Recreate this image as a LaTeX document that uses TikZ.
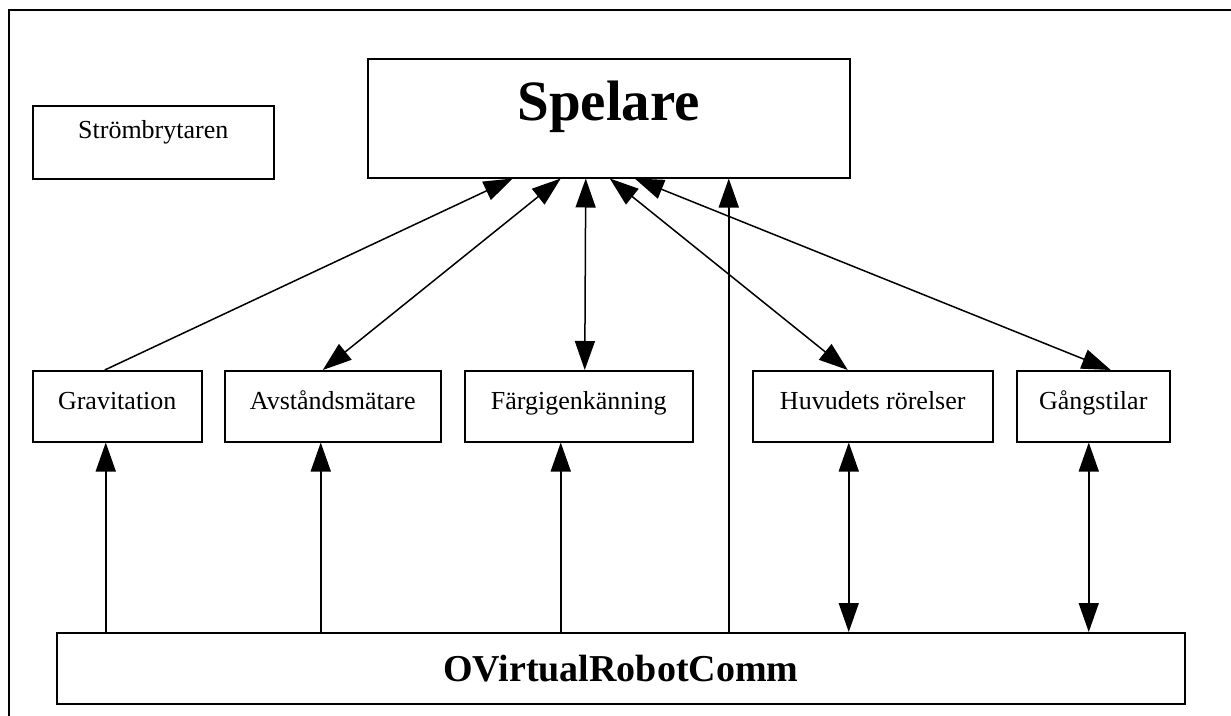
\documentclass[tikz,border=0pt]{standalone}
\usepackage{fontspec}
\setmainfont{Liberation Serif}
\usetikzlibrary{arrows.meta}
\begin{document}
\begin{tikzpicture}[x=1pt,y=-1pt,
  box/.style={draw, line width=1.5pt, rectangle, inner sep=0pt, anchor=north west},
  lbl/.style={font=\fontsize{26}{30}\selectfont, text height=11pt, text depth=5pt},
  uarr/.style={line width=1.5pt, -{Triangle[length=29pt,width=20pt]}},
  darr/.style={line width=1.5pt, {Triangle[length=29pt,width=20pt]}-{Triangle[length=29pt,width=20pt]}}]
\useasboundingbox (0,0) rectangle (1231,715);
\fill[white] (0,0) rectangle (1231,715);
% outer frame
\draw[line width=2pt] (8.5,730) -- (8.5,9.5) -- (1245,9.5);

\node[box, minimum width=241pt, minimum height=73pt, lbl, text height=0pt, text depth=7pt] (strom) at (32,105) {Strömbrytaren};
\node[box, minimum width=482pt, minimum height=119pt, font=\fontsize{57}{60}\selectfont\bfseries, text height=5pt, text depth=0pt] (spel) at (367,58) {Spelare};

\node[box, minimum width=169pt, minimum height=71pt, lbl] (grav) at (32,370) {Gravitation};
\node[box, minimum width=216pt, minimum height=71pt, lbl] (avst) at (224,370) {Avståndsmätare};
\node[box, minimum width=228pt, minimum height=71pt, lbl] (farg) at (464,370) {Färgigenkänning};
\node[box, minimum width=240pt, minimum height=71pt, lbl] (huv) at (752,370) {Huvudets rörelser};
\node[box, minimum width=153pt, minimum height=71pt, lbl] (gang) at (1016,370) {Gångstilar};

\node[box, minimum width=1128pt, minimum height=71pt, font=\fontsize{38}{42}\selectfont\bfseries, text height=26pt, text depth=0pt] (ovrc) at (56,632) {OVirtualRobotComm};

% upper connectors
\draw[uarr] ([xshift=-12.5pt]grav.north) -- ([xshift=-96pt]spel.south);
\draw[darr] ([xshift=-10pt]avst.north) -- ([xshift=-48pt]spel.south);
\draw[darr] ([xshift=6pt]farg.north) -- ([xshift=-23pt]spel.south);
\draw[darr] ([xshift=-25pt]huv.north) -- ([xshift=1pt]spel.south);
\draw[darr] ([xshift=17.5pt]gang.north) -- ([xshift=26pt]spel.south);
\draw[uarr] ([xshift=120pt]spel.south |- ovrc.north) -- ([xshift=120pt]spel.south);

% lower connectors
\draw[uarr] ([xshift=-11.5pt]grav.south |- ovrc.north) -- ([xshift=-11.5pt]grav.south);
\draw[uarr] ([xshift=-12pt]avst.south |- ovrc.north) -- ([xshift=-12pt]avst.south);
\draw[uarr] ([xshift=-18pt]farg.south |- ovrc.north) -- ([xshift=-18pt]farg.south);
\draw[darr] ([xshift=-24pt]huv.south |- ovrc.north) -- ([xshift=-24pt]huv.south);
\draw[darr] ([xshift=-4.5pt]gang.south |- ovrc.north) -- ([xshift=-4.5pt]gang.south);
\end{tikzpicture}
\end{document}
